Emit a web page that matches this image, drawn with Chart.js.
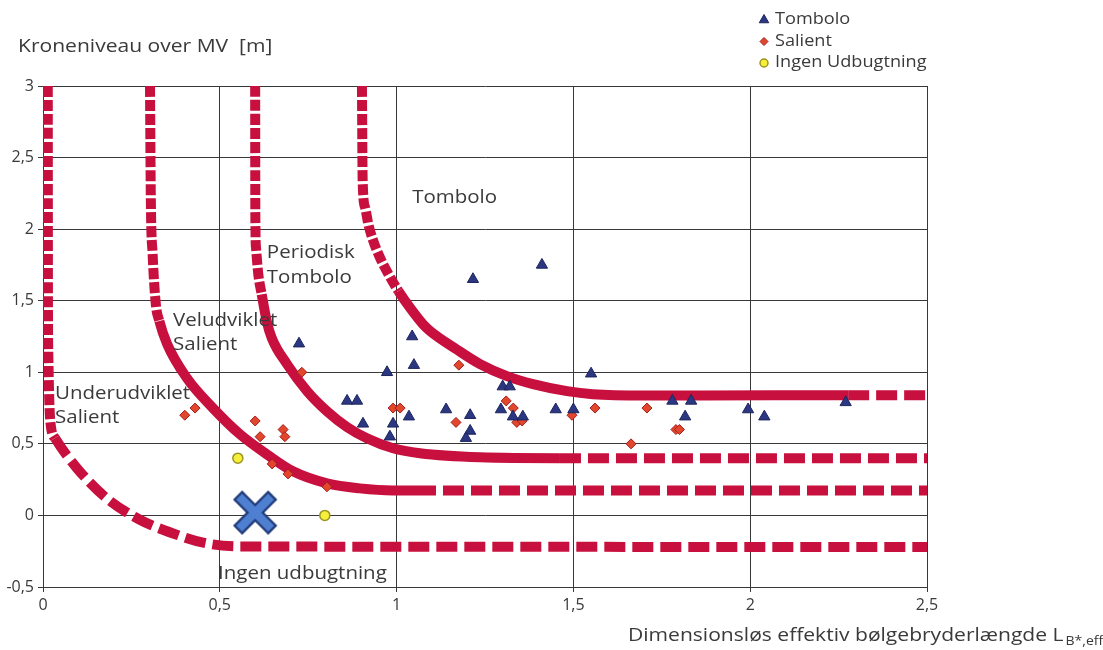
<!DOCTYPE html>
<html>
<head>
<meta charset="utf-8">
<script src="https://cdn.jsdelivr.net/npm/chart.js@4.4.1/dist/chart.umd.min.js"></script>
<style>
  html, body { margin: 0; padding: 0; background: #fff; }
  #wrap { position: relative; width: 1103px; height: 650px; }
</style>
</head>
<body>
<div id="wrap"><canvas id="chart"></canvas></div>
<script>
// Data (x = L_B*,eff, y = kroneniveau [m])
const tomboloX = [0.724, 1.044, 1.049, 0.973, 0.86, 0.888, 0.905, 0.99, 1.035, 0.981,
  1.216, 1.411, 1.30, 1.32, 1.14, 1.208, 1.208, 1.196, 1.295, 1.329, 1.357, 1.45, 1.50,
  1.55, 1.78, 1.833, 1.816, 1.994, 2.04, 2.27];
const tomboloY = [1.20, 1.25, 1.05, 1.00, 0.80, 0.80, 0.64, 0.64, 0.69, 0.55,
  1.65, 1.75, 0.90, 0.90, 0.74, 0.70, 0.59, 0.54, 0.74, 0.69, 0.69, 0.74, 0.74,
  0.99, 0.80, 0.80, 0.69, 0.74, 0.69, 0.79];

const salientX = [0.401, 0.43, 0.60, 0.614, 0.679, 0.684, 0.648, 0.693, 0.803, 0.732,
  0.99, 1.01, 1.176, 1.168, 1.31, 1.33, 1.34, 1.355, 1.496, 1.561, 1.708, 1.79, 1.80, 1.663];
const salientY = [0.70, 0.75, 0.66, 0.55, 0.60, 0.55, 0.36, 0.29, 0.20, 1.00,
  0.75, 0.75, 1.05, 0.65, 0.80, 0.75, 0.65, 0.66, 0.70, 0.75, 0.75, 0.60, 0.60, 0.50];

const ingenX = [0.551, 0.797];
const ingenY = [0.40, 0.0];

// the design point (big blue cross)
const designX = [0.60];
const designY = [0.02];

// boundary curves between the regions
const curve1X = [0.0135, 0.014, 0.015, 0.02, 0.034, 0.096, 0.18, 0.274, 0.368, 0.464, 0.557, 2.5];
const curve1Y = [3.0, 1.5, 1.13, 0.68, 0.54, 0.33, 0.12, -0.03, -0.126, -0.196, -0.217, -0.22];

const curve2X = [0.3026, 0.305, 0.310, 0.319, 0.329, 0.351, 0.407, 0.481, 0.557, 0.633,
  0.707, 0.803, 0.896, 0.990, 1.052, 2.5];
const curve2Y = [3.0, 2.2, 1.827, 1.477, 1.358, 1.197, 0.959, 0.749, 0.567, 0.427,
  0.308, 0.224, 0.189, 0.175, 0.175, 0.175];

const curve3X = [0.6, 0.6005, 0.6024, 0.6089, 0.6185, 0.6326, 0.6468, 0.690, 0.747, 0.803,
  0.860, 0.916, 0.990, 1.066, 1.236, 1.462, 2.5];
const curve3Y = [3.0, 2.107, 1.869, 1.684, 1.545, 1.358, 1.241, 1.057, 0.868, 0.728,
  0.617, 0.539, 0.469, 0.434, 0.406, 0.40, 0.40];

const curve4X = [0.902, 0.904, 0.911, 0.920, 0.934, 0.953, 0.977, 1.005, 1.038, 1.075,
  1.095, 1.171, 1.236, 1.312, 1.386, 1.482, 1.555, 1.70, 1.858, 2.277, 2.5];
const curve4Y = [3.0, 2.338, 2.151, 2.035, 1.918, 1.801, 1.685, 1.568, 1.451, 1.335,
  1.288, 1.158, 1.057, 0.973, 0.917, 0.868, 0.847, 0.838, 0.838, 0.84, 0.84];

// x-range where each curve is drawn solid (null = dashed all the way)
const curveSolid = [null, [0.329, 1.052], [0.6185, 1.462], [1.005, 2.277]];

const xTicks = [0, 0.5, 1, 1.5, 2, 2.5];
const yTicks = [-0.5, 0, 0.5, 1, 1.5, 2, 2.5, 3];

const regionLabels = [
  { lines: ['Tombolo'], x: 1.044, y: 2.22 },
  { lines: ['Periodisk', 'Tombolo'], x: 0.633, y: 1.83 },
  { lines: ['Veludviklet', 'Salient'], x: 0.368, y: 1.36 },
  { lines: ['Underudviklet', 'Salient'], x: 0.034, y: 0.85 },
  { lines: ['Ingen udbugtning'], x: 0.495, y: -0.41 }
];

const legendItems = ['Tombolo', 'Salient', 'Ingen Udbugtning'];

(function () {
  'use strict';

  const RED = '#c8103e';
  const TEXT = '#3a3a3a';
  const FONT = '"Open Sans", "Noto Sans", sans-serif';
  const STRETCH = 1.17; // the original figure is a bit wider than tall

  function pts(xs, ys) {
    return xs.map((x, i) => ({ x: x, y: ys[i] }));
  }

  function fmt(v) {
    return String(v).replace('.', ',');
  }

  // thick dashed/solid boundary line
  function boundary(xs, ys, solid) {
    return {
      type: 'line',
      data: pts(xs, ys),
      showLine: true,
      borderColor: RED,
      borderWidth: 10,
      pointRadius: 0,
      cubicInterpolationMode: 'monotone',
      fill: false,
      order: 5,
      segment: {
        borderDash: ctx => {
          const a = ctx.p0.parsed.x, b = ctx.p1.parsed.x;
          if (solid && a >= solid[0] - 1e-6 && b <= solid[1] + 1e-6) return [];
          const steep = Math.abs(ctx.p1.y - ctx.p0.y) > Math.abs(ctx.p1.x - ctx.p0.x) * 1.5;
          return steep ? [11, 3] : [21, 7];
        }
      }
    };
  }

  // outlined X marker as an image
  function crossImage() {
    const c = document.createElement('canvas');
    c.width = 46; c.height = 46;
    const g = c.getContext('2d');
    g.lineCap = 'square';
    const path = () => {
      g.beginPath();
      g.moveTo(10, 10); g.lineTo(36, 36);
      g.moveTo(36, 10); g.lineTo(10, 36);
    };
    path(); g.strokeStyle = '#1f3a78'; g.lineWidth = 13; g.stroke();
    path(); g.strokeStyle = '#4f7fd0'; g.lineWidth = 8.5; g.stroke();
    return c;
  }

  const markerStyles = [
    { pointStyle: 'triangle', radius: 6.5, backgroundColor: '#2c3782', borderColor: '#1d245e', borderWidth: 1 },
    { pointStyle: 'rectRot', radius: 5, backgroundColor: '#e1472c', borderColor: '#a51d1c', borderWidth: 1 },
    { pointStyle: 'circle', radius: 5, backgroundColor: '#f5ef3c', borderColor: '#9b9422', borderWidth: 1.5 }
  ];

  function scatter(xs, ys, s) {
    return {
      type: 'scatter',
      data: pts(xs, ys),
      pointStyle: s.pointStyle,
      pointRadius: s.radius,
      backgroundColor: s.backgroundColor,
      borderColor: s.borderColor,
      borderWidth: s.borderWidth,
      order: 1
    };
  }

  function wideText(ctx, text, x, y) {
    ctx.save();
    ctx.translate(x, y);
    ctx.scale(STRETCH, 1);
    ctx.fillText(text, 0, 0);
    const w = ctx.measureText(text).width * STRETCH;
    ctx.restore();
    return w;
  }

  // texts: axis titles, region names, legend
  const textPlugin = {
    id: 'texts',
    afterDraw(chart) {
      const ctx = chart.ctx;
      const xs = chart.scales.x, ys = chart.scales.y;
      ctx.save();
      ctx.fillStyle = TEXT;
      ctx.textBaseline = 'middle';
      ctx.textAlign = 'left';

      ctx.font = '18px ' + FONT;
      wideText(ctx, 'Kroneniveau over MV  [m]', 18, 47);
      const w = wideText(ctx, 'Dimensionsløs effektiv bølgebryderlængde L', 628, 636);
      ctx.font = '12px ' + FONT;
      wideText(ctx, 'B*,eff', 628 + w + 2, 642);

      ctx.font = '17.5px ' + FONT;
      regionLabels.forEach(l => {
        const px = xs.getPixelForValue(l.x);
        const py = ys.getPixelForValue(l.y);
        l.lines.forEach((t, i) => wideText(ctx, t, px, py + i * 24.5));
      });

      // legend
      legendItems.forEach((t, i) => {
        const s = markerStyles[i];
        const y = 20 + i * 21.5;
        ctx.fillStyle = s.backgroundColor;
        ctx.strokeStyle = s.borderColor;
        ctx.lineWidth = s.borderWidth;
        Chart.helpers.drawPoint(ctx, {
          pointStyle: s.pointStyle, radius: s.radius - 1, rotation: 0,
          borderWidth: s.borderWidth
        }, 764, y);
        ctx.fillStyle = TEXT;
        ctx.font = '15.5px ' + FONT;
        wideText(ctx, t, 775, y);
      });
      ctx.restore();
    }
  };

  const datasets = [
    boundary(curve1X, curve1Y, curveSolid[0]),
    boundary(curve2X, curve2Y, curveSolid[1]),
    boundary(curve3X, curve3Y, curveSolid[2]),
    boundary(curve4X, curve4Y, curveSolid[3]),
    scatter(tomboloX, tomboloY, markerStyles[0]),
    scatter(salientX, salientY, markerStyles[1]),
    scatter(ingenX, ingenY, markerStyles[2]),
    {
      type: 'scatter',
      data: pts(designX, designY),
      pointStyle: crossImage(),
      pointRadius: 20,
      order: 0
    }
  ];

  const gridColor = '#383838';
  const tickFont = { size: 16, family: FONT };

  new Chart(document.getElementById('chart'), {
    type: 'scatter',
    data: { datasets: datasets },
    plugins: [textPlugin],
    options: {
      responsive: true,
      maintainAspectRatio: false,
      animation: false,
      layout: { padding: { top: 86, right: 176, left: 0, bottom: 0 } },
      plugins: { legend: { display: false }, tooltip: { enabled: false } },
      scales: {
        x: {
          type: 'linear',
          min: 0, max: 2.5,
          afterBuildTicks: s => { s.ticks = xTicks.map(v => ({ value: v })); },
          afterFit: s => { s.height = 63; },
          ticks: { callback: fmt, color: TEXT, font: tickFont, padding: 4, maxRotation: 0 },
          grid: { color: gridColor, tickLength: 5, tickColor: gridColor },
          border: { color: gridColor }
        },
        y: {
          type: 'linear',
          min: -0.5, max: 3,
          afterBuildTicks: s => { s.ticks = yTicks.map(v => ({ value: v })); },
          afterFit: s => { s.width = 43; },
          ticks: { callback: fmt, color: TEXT, font: tickFont, padding: 4 },
          grid: { color: gridColor, tickLength: 5, tickColor: gridColor },
          border: { color: gridColor }
        }
      }
    }
  });
})();
</script>
</body>
</html>
